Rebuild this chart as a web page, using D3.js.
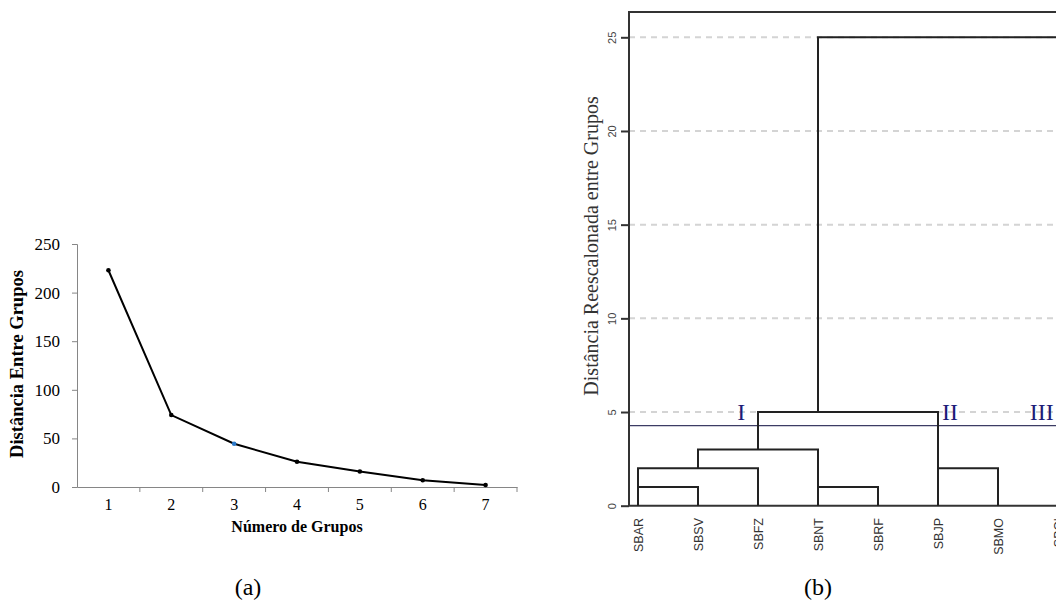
<!DOCTYPE html>
<html>
<head>
<meta charset="utf-8">
<script src="https://cdn.jsdelivr.net/npm/d3@7"></script>
<style>
  body { margin: 0; background: #fff; }
  svg { display: block; }
</style>
</head>
<body>
<div id="chart"></div>
<script>
// (a) distance between groups vs number of groups
var groupCounts = [1, 2, 3, 4, 5, 6, 7];
var groupDistances = [223, 74, 44.5, 26, 16, 7, 2];
var distanceTicks = [0, 50, 100, 150, 200, 250];

// (b) dendrogram, positions in leaf units
var leaves = ["SBAR", "SBSV", "SBFZ", "SBNT", "SBRF", "SBJP", "SBMO", "SBCI"];
var mergeLeft = [0, 0, 3, 1, 5, 2, 3];
var mergeRight = [1, 2, 4, 3, 6, 5, 8];
var mergeHeight = [1, 2, 1, 3, 2, 5, 25];
var leftFrom = [0, 1, 0, 2, 0, 3, 5];
var rightFrom = [0, 0, 0, 1, 0, 2, 0];
var rescaledTicks = [0, 5, 10, 15, 20, 25];
var cutHeight = 4.27;
var groupLabels = ["I", "II", "III"];
var groupLabelPos = [1.72, 5.2, 6.73];

var svg = d3.select("#chart")
  .append("svg")
  .attr("width", 1056)
  .attr("height", 612);

var serif = "Liberation Serif, Times New Roman, serif";
var sans = "Liberation Sans, Arial, sans-serif";

// ---------- chart (a) ----------
var xA = d3.scaleBand()
  .domain(groupCounts)
  .range([77, 517]);

var yA = d3.scaleLinear()
  .domain([0, 250])
  .range([487, 244]);

var axisColor = "#868686";

var gy = svg.append("g")
  .attr("transform", "translate(77,0)")
  .call(d3.axisLeft(yA).tickValues(distanceTicks).tickSize(5).tickPadding(12));
gy.selectAll("path, line").attr("stroke", axisColor);
gy.selectAll("text")
  .attr("font-family", serif)
  .attr("font-size", "17px")
  .attr("fill", "#000");

var gx = svg.append("g")
  .attr("transform", "translate(0,487)")
  .call(d3.axisBottom(xA).tickSize(0).tickPadding(12));
gx.selectAll("path").attr("stroke", axisColor);
gx.selectAll("text")
  .attr("font-family", serif)
  .attr("font-size", "16px")
  .attr("fill", "#000");
// band boundary ticks
gx.selectAll(".bound")
  .data(groupCounts)
  .enter()
  .append("line")
  .attr("x1", d => xA(d) + xA.bandwidth())
  .attr("x2", d => xA(d) + xA.bandwidth())
  .attr("y1", 0)
  .attr("y2", 5)
  .attr("stroke", axisColor);

var line = d3.line()
  .x((d, i) => xA(groupCounts[i]) + xA.bandwidth() / 2)
  .y(d => yA(d));

svg.append("path")
  .datum(groupDistances)
  .attr("d", line)
  .attr("fill", "none")
  .attr("stroke", "#000")
  .attr("stroke-width", 2);

svg.selectAll(".dot")
  .data(groupDistances)
  .enter()
  .append("circle")
  .attr("cx", (d, i) => xA(groupCounts[i]) + xA.bandwidth() / 2)
  .attr("cy", d => yA(d))
  .attr("r", 2.3)
  .attr("fill", (d, i) => i == 2 ? "#2a78c8" : "#000");

svg.append("text")
  .attr("transform", "translate(23,364) rotate(-90)")
  .attr("text-anchor", "middle")
  .attr("font-family", serif)
  .attr("font-weight", "bold")
  .attr("font-size", "18.5px")
  .text("Distância Entre Grupos");

svg.append("text")
  .attr("x", 297)
  .attr("y", 532)
  .attr("text-anchor", "middle")
  .attr("font-family", serif)
  .attr("font-weight", "bold")
  .attr("font-size", "16px")
  .text("Número de Grupos");

svg.append("text")
  .attr("x", 248)
  .attr("y", 595)
  .attr("text-anchor", "middle")
  .attr("font-family", serif)
  .attr("font-size", "24px")
  .text("(a)");

// ---------- chart (b) ----------
var xB = d3.scaleLinear()
  .domain([0, 1])
  .range([638, 698]);

var yB = d3.scaleLinear()
  .domain([0, 25])
  .range([505.7, 37.3]);

var frameLeft = 629, frameTop = 12, frameRight = 1056;

// dashed grid
svg.selectAll(".grid")
  .data(rescaledTicks.slice(1))
  .enter()
  .append("line")
  .attr("x1", frameLeft)
  .attr("x2", frameRight)
  .attr("y1", d => yB(d))
  .attr("y2", d => yB(d))
  .attr("stroke", "#d4d4d4")
  .attr("stroke-width", 2)
  .attr("stroke-dasharray", "6,5");

// cut line
svg.append("line")
  .attr("x1", frameLeft)
  .attr("x2", frameRight)
  .attr("y1", yB(cutHeight))
  .attr("y2", yB(cutHeight))
  .attr("stroke", "#3c3c64")
  .attr("stroke-width", 1.3);

// frame
svg.append("path")
  .attr("d", "M" + frameRight + "," + frameTop + "H" + frameLeft + "V" + yB(0) + "H" + frameRight)
  .attr("fill", "none")
  .attr("stroke", "#333")
  .attr("stroke-width", 2);

var ay = svg.append("g")
  .attr("transform", "translate(" + frameLeft + ",0)")
  .call(d3.axisLeft(yB).tickValues(rescaledTicks).tickSize(8));
ay.select(".domain").remove();
ay.selectAll("line").attr("stroke", "#333").attr("stroke-width", 2);
ay.selectAll("text")
  .attr("x", null)
  .attr("transform", "translate(-17,0) rotate(-90)")
  .attr("text-anchor", "middle")
  .attr("dy", "0.36em")
  .attr("font-family", sans)
  .attr("font-size", "11px")
  .attr("fill", "#444");

// dendrogram links
svg.selectAll(".link")
  .data(mergeHeight)
  .enter()
  .append("path")
  .attr("d", (h, i) => "M" + xB(mergeLeft[i]) + "," + yB(leftFrom[i]) +
    "V" + yB(h) + "H" + xB(mergeRight[i]) + "V" + yB(rightFrom[i]))
  .attr("fill", "none")
  .attr("stroke", "#222")
  .attr("stroke-width", 2);

// leaf labels
svg.selectAll(".leaf")
  .data(leaves)
  .enter()
  .append("text")
  .attr("transform", (d, i) => "translate(" + xB(i) + ",518) rotate(-90)")
  .attr("text-anchor", "end")
  .attr("dy", "0.36em")
  .attr("font-family", sans)
  .attr("font-size", "12.5px")
  .attr("fill", "#333")
  .text(d => d);

// group numerals
svg.selectAll(".grp")
  .data(groupLabels)
  .enter()
  .append("text")
  .attr("x", (d, i) => xB(groupLabelPos[i]))
  .attr("y", yB(5))
  .attr("dy", "0.35em")
  .attr("text-anchor", "middle")
  .attr("font-family", serif)
  .attr("font-size", "24px")
  .attr("fill", "#1c1c78")
  .text(d => d);

svg.append("text")
  .attr("transform", "translate(598,246) rotate(-90)")
  .attr("text-anchor", "middle")
  .attr("font-family", serif)
  .attr("font-size", "20px")
  .attr("fill", "#333")
  .text("Distância Reescalonada entre Grupos");

svg.append("text")
  .attr("x", 818)
  .attr("y", 595)
  .attr("text-anchor", "middle")
  .attr("font-family", serif)
  .attr("font-size", "24px")
  .text("(b)");
</script>
</body>
</html>
